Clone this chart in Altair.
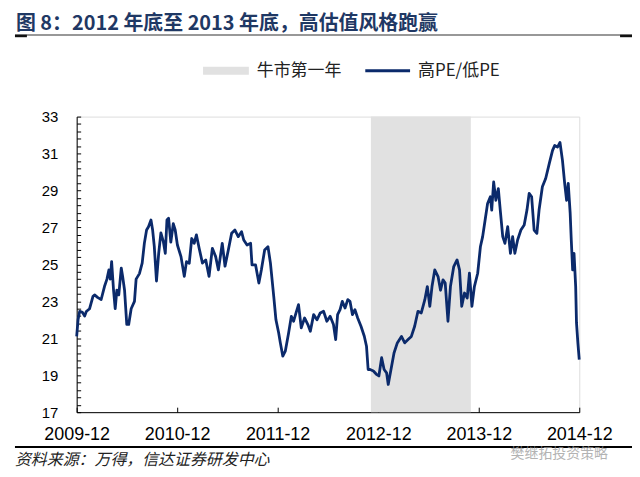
import altair as alt
import pandas as pd

# ---------------- data ----------------
dates = [
    "2009-12-01", "2009-12-06", "2009-12-12", "2009-12-22", "2009-12-30",
    "2010-01-05", "2010-01-17", "2010-01-29", "2010-02-04", "2010-02-16", "2010-02-28",
    "2010-03-12", "2010-03-21", "2010-03-28", "2010-04-02", "2010-04-07", "2010-04-14",
    "2010-04-20", "2010-04-26", "2010-05-03", "2010-05-12", "2010-05-17", "2010-05-24",
    "2010-06-01", "2010-06-08", "2010-06-17", "2010-06-29", "2010-07-05", "2010-07-17",
    "2010-07-27", "2010-08-04", "2010-08-12", "2010-08-19", "2010-08-28", "2010-09-03",
    "2010-09-09", "2010-09-17", "2010-09-25", "2010-10-03", "2010-10-12", "2010-10-19",
    "2010-10-25", "2010-10-31", "2010-11-08", "2010-11-17", "2010-11-24", "2010-12-02",
    "2010-12-15", "2010-12-27", "2011-01-04", "2011-01-14", "2011-01-23", "2011-02-01",
    "2011-02-09", "2011-02-19", "2011-03-03", "2011-03-15", "2011-03-27", "2011-04-08",
    "2011-04-20", "2011-04-30",
    "2011-05-14", "2011-05-24", "2011-06-05", "2011-06-17", "2011-06-29", "2011-07-11",
    "2011-07-23", "2011-07-31", "2011-08-12", "2011-08-25", "2011-08-30", "2011-09-12",
    "2011-09-24", "2011-10-03", "2011-10-15", "2011-10-27", "2011-11-05", "2011-11-17",
    "2011-11-25", "2011-12-05", "2011-12-11", "2011-12-20", "2011-12-29", "2012-01-10",
    "2012-01-20", "2012-01-28", "2012-02-06", "2012-02-15", "2012-02-25", "2012-03-08",
    "2012-03-20", "2012-03-29", "2012-04-10", "2012-04-22", "2012-05-04", "2012-05-16",
    "2012-05-28", "2012-06-09", "2012-06-21", "2012-06-29", "2012-07-06", "2012-07-15",
    "2012-07-23", "2012-08-02", "2012-08-12", "2012-08-20", "2012-08-29", "2012-09-07",
    "2012-09-17", "2012-09-29", "2012-10-11", "2012-10-19", "2012-10-25",
    "2012-11-01", "2012-11-13", "2012-11-24", "2012-12-03", "2012-12-13", "2012-12-22",
    "2012-12-31", "2013-01-06", "2013-01-16", "2013-01-27", "2013-02-08", "2013-02-23",
    "2013-03-07", "2013-03-19", "2013-03-31", "2013-04-12", "2013-04-24", "2013-05-06",
    "2013-05-19", "2013-05-28", "2013-06-06", "2013-06-14", "2013-06-24", "2013-07-06",
    "2013-07-15", "2013-07-24", "2013-08-01", "2013-08-11", "2013-08-20", "2013-09-01",
    "2013-09-13", "2013-09-22", "2013-09-30", "2013-10-10", "2013-10-20", "2013-10-28",
    "2013-11-06", "2013-11-15", "2013-11-27", "2013-12-07", "2013-12-15", "2013-12-24",
    "2014-01-02", "2014-01-12", "2014-01-17", "2014-01-24", "2014-02-01", "2014-02-10",
    "2014-02-17", "2014-02-26", "2014-03-06", "2014-03-16", "2014-03-26", "2014-04-03",
    "2014-04-11", "2014-04-21", "2014-05-03", "2014-05-15", "2014-05-25", "2014-06-02",
    "2014-06-11", "2014-06-20", "2014-06-30", "2014-07-08", "2014-07-20", "2014-08-01",
    "2014-08-14", "2014-08-26", "2014-09-03", "2014-09-13", "2014-09-22", "2014-10-01",
    "2014-10-09", "2014-10-16", "2014-10-22", "2014-10-29", "2014-11-02", "2014-11-07",
    "2014-11-12", "2014-11-18", "2014-11-21", "2014-11-26", "2014-12-01",
]
values = [
    21.1, 22.0, 22.46, 22.4, 22.2, 22.45, 22.6, 23.26, 23.35, 23.2, 23.1, 23.8, 24.2, 24.7,
    24.2, 25.15, 23.6, 22.6, 23.6, 23.35, 24.8, 24.35, 23.6, 21.75, 21.75, 22.6, 23.0, 24.2,
    24.5, 25.07, 26.15, 26.86, 27.04, 27.4, 26.86, 25.97, 24.1, 25.6, 26.7, 26.23, 25.6, 27.4,
    27.5, 26.2, 27.2, 26.86, 26.05, 25.42, 24.35, 25.15, 25.06, 26.4, 26.14, 26.6, 25.87,
    25.07, 25.24, 24.35, 25.87, 25.42, 24.7,
    26.14, 24.9, 25.78, 26.68, 26.86, 26.5, 26.77, 26.32, 26.05, 26.14, 24.97, 24.97, 23.99,
    24.7, 25.78, 25.96, 25.07, 23.27, 22.0, 21.29, 20.75, 20.03, 20.3, 21.29, 22.19, 21.92,
    22.37, 22.82, 21.56, 22.1, 21.74, 21.38, 22.28, 22.0, 22.37, 22.46, 21.92, 22.19, 21.74,
    20.93, 22.28, 22.55, 23.0, 22.64, 23.09, 23.0, 22.28, 22.55, 22.1, 21.65, 21.11, 20.57,
    19.31,
    19.31, 19.23, 19.05, 18.96, 19.95, 19.31, 19.13, 18.5, 19.31, 20.2, 20.75, 21.1, 20.75,
    20.93, 21.1, 21.65, 22.46, 22.37, 23.09, 23.8, 22.73, 23.8, 24.7, 24.34, 23.6, 24.16,
    23.99, 21.92, 23.8, 24.88, 25.24, 24.7, 22.73, 23.45, 23.18, 24.52, 22.73, 23.8, 24.52,
    25.97, 26.5, 27.4, 28.3, 28.66, 27.94, 29.46, 28.47, 29.1, 27.94, 26.5, 26.14, 27.04,
    25.6, 26.5, 25.6, 26.32, 26.86, 27.13, 27.94, 28.84, 28.66, 26.86, 26.68, 27.94, 29.2,
    29.65, 30.45, 31.17, 31.44, 31.35, 31.6, 30.63, 29.38, 28.47, 29.38, 27.77, 26.32, 24.7,
    25.6, 23.8, 21.83, 20.75, 19.85,
]
assert len(dates) == len(values)

shade_start = ["2012-11-04"]
shade_end = ["2013-11-02"]
series_name = "高PE/低PE"
shade_name = "牛市第一年"
y_label_values = [17, 19, 21, 23, 25, 27, 29, 31, 33]
y_minor_values = [round(17 + 0.4 * i, 1) for i in range(41)]
x_tick_years = [2009, 2010, 2011, 2012, 2013, 2014]

title_text = "图 8：2012 年底至 2013 年底，高估值风格跑赢"
source_text = "资料来源：万得，信达证券研发中心"
watermark_text = "樊继拓投资策略"

# ---------------- styling ----------------
W, H = 505, 297
NAVY = "#0b2a6b"
SHADE = "#e1e1e1"
LATIN = "Liberation Sans"
CJK = "Noto Sans CJK SC"

line_df = pd.DataFrame({"date": dates, "value": values})
shade_df = pd.DataFrame({"start": shade_start, "end": shade_end,
                         "top": [max(y_label_values)], "bottom": [min(y_label_values)]})

xdom = [alt.DateTime(year=2009, month=12, date=1, utc=True),
        alt.DateTime(year=2014, month=12, date=1, utc=True)]
xscale = alt.Scale(type="utc", domain=xdom, nice=False)
yscale = alt.Scale(domain=[17, 33], nice=False, zero=False)
xtick_vals = [alt.DateTime(year=y, month=12, date=1, utc=True) for y in x_tick_years]

x_axis_main = alt.Axis(values=xtick_vals, format="%Y-%m", tickSize=0, domain=True,
                       domainColor="#000", domainWidth=1, labelFont=LATIN, labelFontSize=18,
                       labelColor="#000", labelPadding=13, grid=False, title=None,
                       labelFlush=False, labelOverlap=False, orient="bottom")
y_axis_main = alt.Axis(values=y_label_values, tickSize=0, domain=True, domainColor="#000",
                       domainWidth=1, labelFont=LATIN, labelFontSize=15, labelColor="#000",
                       labelPadding=19, grid=False, title=None, orient="left",
                       labelOverlap=False)

x_axis_ticks = alt.Axis(values=xtick_vals, tickSize=5, offset=-5, domain=False, labels=False,
                        tickColor="#000", tickWidth=1, grid=False, title=None, orient="bottom")
y_axis_ticks = alt.Axis(values=y_minor_values, tickSize=4, offset=-4, domain=False,
                        labels=False, tickColor="#000", tickWidth=1, grid=False, title=None,
                        orient="left")

shade = alt.Chart(shade_df).mark_rect(color=SHADE).encode(
    x=alt.X("start:T", scale=xscale, axis=None),
    x2="end:T",
    y=alt.Y("top:Q", scale=yscale, axis=None),
    y2="bottom:Q",
)

line = alt.Chart(line_df).mark_line(color=NAVY, strokeWidth=2.8, strokeJoin="round").encode(
    x=alt.X("date:T", scale=xscale, axis=x_axis_main),
    y=alt.Y("value:Q", scale=yscale, axis=y_axis_main),
)

ticks = alt.Chart(line_df).mark_line(strokeOpacity=0).encode(
    x=alt.X("date:T", scale=xscale, axis=x_axis_ticks),
    y=alt.Y("value:Q", scale=yscale, axis=y_axis_ticks),
)

one = pd.DataFrame({"k": [0]})

title = alt.Chart(pd.DataFrame({"t": [title_text]})).mark_text(
    font=CJK, fontSize=20, fontWeight="bold", color="#1f3864", align="left", baseline="middle"
).encode(x=alt.value(-61), y=alt.value(-93), text="t:N")

title_rule = alt.Chart(one).mark_rule(color="#333", strokeWidth=1.2).encode(
    x=alt.value(-62), x2=alt.value(558), y=alt.value(-82))
title_rule_l = alt.Chart(one).mark_rule(color="#111", strokeWidth=2.5).encode(
    x=alt.value(-62), x2=alt.value(-50), y=alt.value(-81))
title_rule_r = alt.Chart(one).mark_rule(color="#111", strokeWidth=2.5).encode(
    x=alt.value(546), x2=alt.value(558), y=alt.value(-81))

leg_rect = alt.Chart(one).mark_rect(color=SHADE).encode(
    x=alt.value(127), x2=alt.value(173), y=alt.value(-50), y2=alt.value(-42))
leg_t1 = alt.Chart(pd.DataFrame({"t": [shade_name]})).mark_text(
    font=CJK, fontSize=17, color="#222", align="left", baseline="middle"
).encode(x=alt.value(181), y=alt.value(-46), text="t:N")
leg_line = alt.Chart(one).mark_rule(color=NAVY, strokeWidth=3).encode(
    x=alt.value(290), x2=alt.value(335), y=alt.value(-46))
leg_t2 = alt.Chart(pd.DataFrame({"t": [series_name]})).mark_text(
    font=CJK, fontSize=17, color="#222", align="left", baseline="middle"
).encode(x=alt.value(343), y=alt.value(-46), text="t:N")

bottom_rule = alt.Chart(one).mark_rule(color="#000", strokeWidth=2).encode(
    x=alt.value(-62), x2=alt.value(558), y=alt.value(332))
source = alt.Chart(pd.DataFrame({"t": [source_text]})).mark_text(
    font=CJK, fontSize=16, fontStyle="italic", color="#222", align="left", baseline="middle"
).encode(x=alt.value(-62), y=alt.value(345), text="t:N")
watermark = alt.Chart(pd.DataFrame({"t": [watermark_text]})).mark_text(
    font=CJK, fontSize=14, color="#9a9a9a", opacity=0.75, align="left", baseline="middle"
).encode(x=alt.value(436), y=alt.value(339), text="t:N")

chart = alt.layer(
    shade, line, ticks, title, title_rule, title_rule_l, title_rule_r,
    leg_rect, leg_t1, leg_line, leg_t2, bottom_rule, source, watermark,
).resolve_scale(x="independent", y="independent").properties(
    width=W, height=H,
    autosize=alt.AutoSizeParams(type="none"),
    padding={"left": 69, "top": 108, "right": 53, "bottom": 56},
).configure_view(stroke=None).configure(background="white")

chart.save("out.html", embed_options={"renderer": "svg", "actions": False})
